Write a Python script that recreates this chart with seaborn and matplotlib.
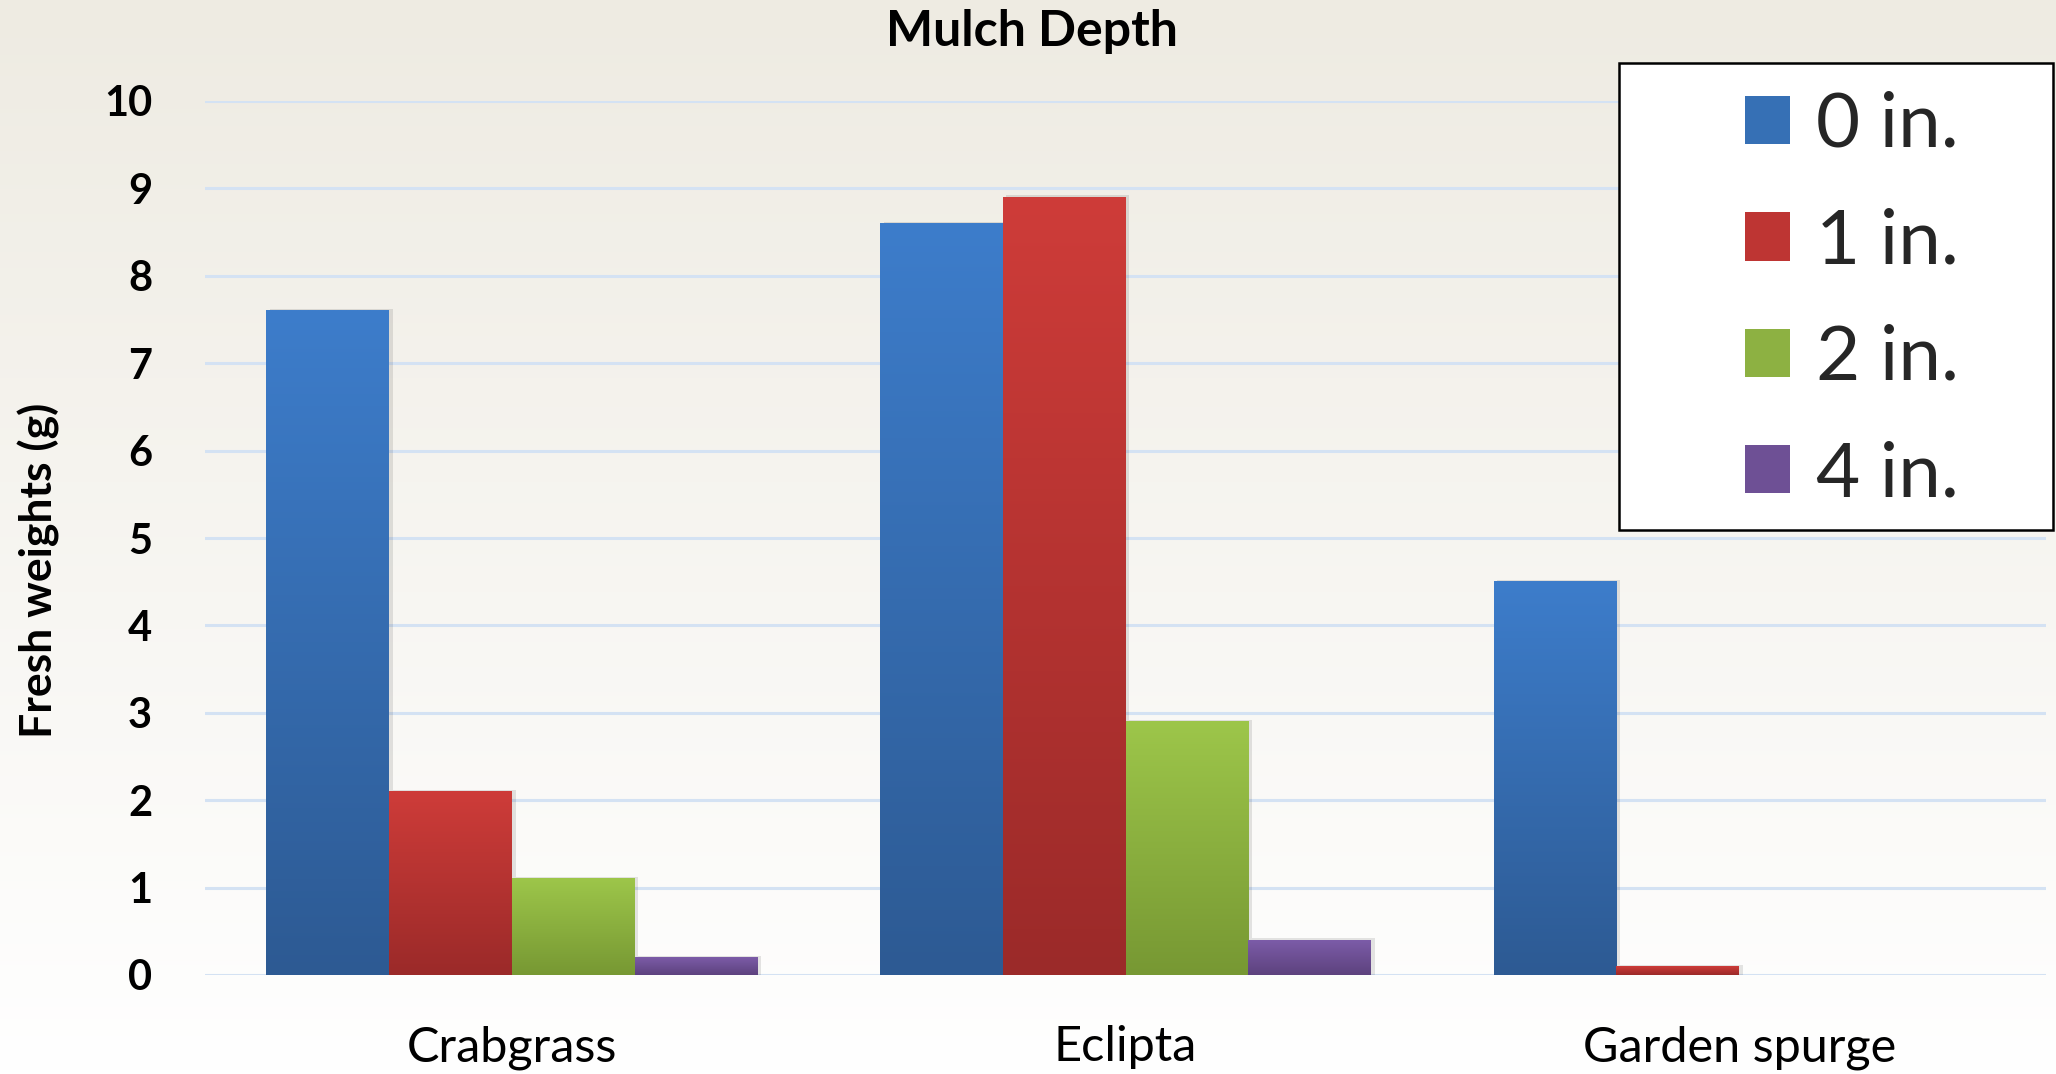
import numpy as np
import pandas as pd
import matplotlib
matplotlib.use("Agg")
import matplotlib.pyplot as plt
import seaborn as sns
from matplotlib.colors import LinearSegmentedColormap
from matplotlib.patches import Rectangle, Patch

# ---- data ----
categories = ["Crabgrass", "Eclipta", "Garden spurge"]
depths = ["0 in.", "1 in.", "2 in.", "4 in."]
w_0in = [7.6, 8.6, 4.5]
w_1in = [2.1, 8.9, 0.1]
w_2in = [1.1, 2.9, 0.0]
w_4in = [0.2, 0.4, 0.0]
yticks = list(range(0, 11))
title = "Mulch Depth"
ylabel = "Fresh weights (g)"

top_colors = ["#3D7DCB", "#CE3C39", "#9DC64A", "#7C5CA8"]
bottom_colors = ["#2D5A93", "#9B2A29", "#779833", "#5D427E"]
mid_colors = ["#3670B5", "#BE3533", "#8DB142", "#6E5095"]

df = pd.DataFrame({
    "Weed": categories * 4,
    "Depth": np.repeat(depths, len(categories)),
    "Weight": w_0in + w_1in + w_2in + w_4in,
})

sns.set_theme(style="white")
plt.rcParams['font.family'] = ['Lato', 'DejaVu Sans']

W, H = 2056, 1074
fig = plt.figure(figsize=(W / 100, H / 100), dpi=100)

# background gradient
bg = fig.add_axes([0, 0, 1, 1], zorder=-10)
grad = np.linspace(0, 1, 256).reshape(-1, 1)
bg.imshow(grad, aspect='auto', extent=[0, 1, 0, 1], origin='upper',
          cmap=LinearSegmentedColormap.from_list("bg", ["#EEEBE2", "#FFFFFF"]))
bg.axis('off')

ax = fig.add_axes([205 / W, 1 - 975 / H, (2046 - 205) / W, (975 - 101) / H])
ax.patch.set_alpha(0)

sns.barplot(data=df, x="Weed", y="Weight", hue="Depth", hue_order=depths,
            order=categories, palette=mid_colors, saturation=1, width=0.8,
            ax=ax, legend=False, edgecolor="none", linewidth=0)

xlim = ax.get_xlim()
# gradient fill on each bar
for i, cont in enumerate(ax.containers):
    cmap = LinearSegmentedColormap.from_list(f"g{i}", [top_colors[i], bottom_colors[i]])
    for p in cont.patches:
        h = p.get_height()
        if h <= 0:
            continue
        x0 = p.get_x()
        w = p.get_width()
        # soft shadow
        ax.add_patch(Rectangle((x0 + 0.006, 0), w, h + 0.02, facecolor="#000000",
                               alpha=0.10, zorder=2, linewidth=0))
        ax.imshow(grad, aspect='auto', extent=[x0, x0 + w, 0, h], origin='upper',
                  cmap=cmap, zorder=3)
ax.set_xlim(xlim)
ax.set_ylim(0, 10)

ax.set_yticks(yticks)
ax.set_yticklabels([str(t) for t in yticks], fontsize=30, fontweight='bold', color='black')
ax.tick_params(axis='y', length=0, pad=38)
ax.tick_params(axis='x', length=0, pad=36, labelsize=35, labelcolor='black')
ax.yaxis.grid(True, color="#D4E2F3", linewidth=2.2)
ax.xaxis.grid(False)
ax.set_axisbelow(True)
for s in ax.spines.values():
    s.set_visible(False)
ax.set_xlabel("")
ax.set_ylabel("")

fig.text(1032 / W, 1 - 31 / H, title, ha='center', va='center',
         fontsize=36, fontweight='bold', color='black')
fig.text(39 / W, 1 - 570 / H, ylabel, ha='center', va='center', rotation=90,
         fontsize=32, fontweight='bold', color='black')

# legend box
fig.patches.append(Rectangle((1619 / W, 1 - 530 / H), 434 / W, 467 / H,
                             transform=fig.transFigure, facecolor='white',
                             edgecolor='black', linewidth=1.8, zorder=5))
handles = [Patch(facecolor=c, edgecolor='none') for c in mid_colors]
leg = fig.legend(handles, depths, loc='center', bbox_to_anchor=(1852 / W, 1 - 300 / H),
                 frameon=False, fontsize=55, handlelength=0.6, handleheight=0.6,
                 handletextpad=0.34, labelspacing=0.62, borderpad=0)
leg.set_zorder(6)

fig.savefig("out.png", dpi=100)
